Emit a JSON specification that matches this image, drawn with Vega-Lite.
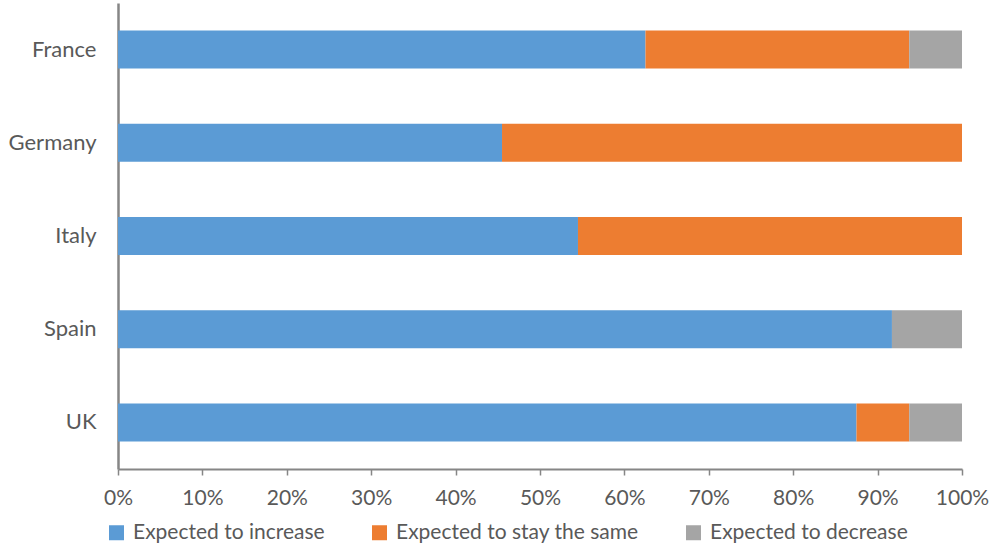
{
  "$schema": "https://vega.github.io/schema/vega-lite/v6.json",
  "autosize": "none",
  "width": 844,
  "height": 466,
  "padding": {"left": 118, "top": 3, "right": 28, "bottom": 80},
  "background": "white",
  "config": {"view": {"stroke": null}, "font": "Lato"},
  "data": {"values": [
    {"country": "France", "outlook": "Expected to increase", "share": 0.625},
    {"country": "France", "outlook": "Expected to stay the same", "share": 0.3125},
    {"country": "France", "outlook": "Expected to decrease", "share": 0.0625},
    {"country": "Germany", "outlook": "Expected to increase", "share": 0.455},
    {"country": "Germany", "outlook": "Expected to stay the same", "share": 0.545},
    {"country": "Germany", "outlook": "Expected to decrease", "share": 0},
    {"country": "Italy", "outlook": "Expected to increase", "share": 0.545},
    {"country": "Italy", "outlook": "Expected to stay the same", "share": 0.455},
    {"country": "Italy", "outlook": "Expected to decrease", "share": 0},
    {"country": "Spain", "outlook": "Expected to increase", "share": 0.917},
    {"country": "Spain", "outlook": "Expected to stay the same", "share": 0},
    {"country": "Spain", "outlook": "Expected to decrease", "share": 0.083},
    {"country": "UK", "outlook": "Expected to increase", "share": 0.875},
    {"country": "UK", "outlook": "Expected to stay the same", "share": 0.0625},
    {"country": "UK", "outlook": "Expected to decrease", "share": 0.0625}
  ]},
  "transform": [
    {"calculate": "indexof(['Expected to increase', 'Expected to stay the same', 'Expected to decrease'], datum.outlook)", "as": "stackOrder"}
  ],
  "mark": {"type": "bar"},
  "encoding": {
    "y": {
      "field": "country", "type": "nominal",
      "sort": ["France", "Germany", "Italy", "Spain", "UK"],
      "scale": {"paddingInner": 0.592, "paddingOuter": 0.296},
      "axis": {
        "title": null, "ticks": false, "labelPadding": 22,
        "labelFontSize": 22, "labelColor": "#595959",
        "domainColor": "#868686", "domainWidth": 2.5
      }
    },
    "x": {
      "field": "share", "type": "quantitative", "stack": "zero",
      "scale": {"domain": [0, 1], "nice": false},
      "axis": {
        "title": null, "format": ".0%", "values": [0,0.1,0.2,0.3,0.4,0.5,0.6,0.7,0.8,0.9,1],
        "grid": false, "tickSize": 6, "tickColor": "#868686", "tickWidth": 1.5,
        "domainColor": "#868686", "domainWidth": 2,
        "labelPadding": 12, "labelFontSize": 21, "labelColor": "#595959",
        "labelFlush": false, "labelOverlap": false, "labelBound": false
      }
    },
    "color": {
      "field": "outlook", "type": "nominal",
      "sort": ["Expected to increase", "Expected to stay the same", "Expected to decrease"],
      "scale": {
        "domain": ["Expected to increase", "Expected to stay the same", "Expected to decrease"],
        "range": ["#5B9BD5", "#ED7D31", "#A5A5A5"]
      },
      "legend": {
        "title": null, "orient": "none", "direction": "horizontal",
        "legendX": -12, "legendY": 519,
        "symbolType": "square", "symbolSize": 225, "symbolStrokeWidth": 0,
        "labelFontSize": 21, "labelColor": "#595959", "labelOffset": 6,
        "labelLimit": 0, "columnPadding": 44
      }
    },
    "order": {"field": "stackOrder", "type": "quantitative", "sort": "ascending"}
  }
}
